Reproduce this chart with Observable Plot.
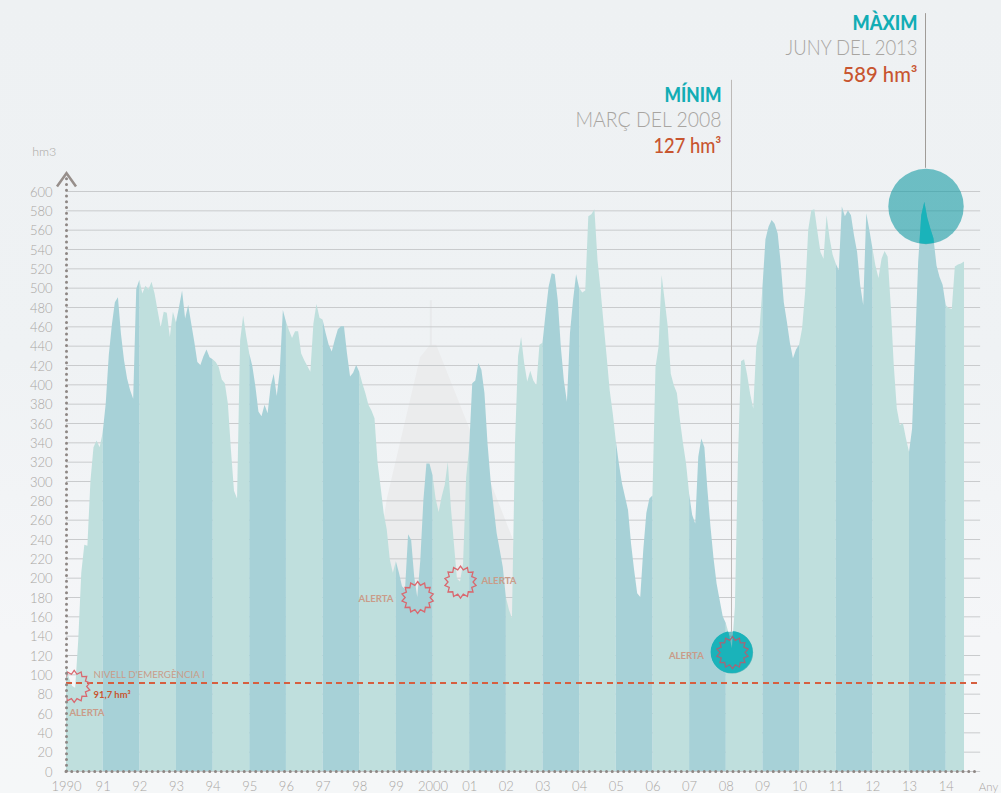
<!DOCTYPE html>
<html lang="ca">
<head>
<meta charset="utf-8">
<style>
  html, body { margin: 0; padding: 0; width: 1001px; height: 793px; overflow: hidden;
    background: linear-gradient(180deg, #eef1f3 0%, #eff2f4 45%, #f5f6f8 80%, #f5f7f8 100%); }
  svg { display: block; background: transparent !important; }
</style>
<script src="https://cdn.jsdelivr.net/npm/d3@7"></script>
<script src="https://cdn.jsdelivr.net/npm/@observablehq/plot@0.6"></script>
</head>
<body>
<div id="chart"></div>
<script>
// Monthly stored volume (hm3), Jan–Dec of each year
const v1990 = [108, 96, 88, 86, 135, 205, 234, 233, 300, 335, 342, 335];
const v1991 = [350, 380, 430, 461, 485, 490, 452, 425, 406, 394, 385, 499];
const v1992 = [508, 494, 502, 498, 506, 494, 476, 459, 475, 474, 449, 475];
const v1993 = [464, 480, 497, 468, 482, 463, 444, 423, 420, 429, 436, 428];
const v1994 = [426, 423, 418, 405, 401, 380, 332, 290, 282, 445, 471, 450];
const v1995 = [432, 419, 398, 372, 367, 379, 370, 398, 411, 388, 415, 477];
const v1996 = [465, 456, 448, 455, 455, 432, 425, 419, 413, 463, 483, 469];
const v1997 = [467, 453, 441, 434, 446, 457, 460, 460, 432, 408, 412, 420];
const v1998 = [413, 401, 391, 379, 373, 365, 319, 294, 267, 250, 219, 205];
const v1999 = [217, 205, 191, 188, 245, 239, 201, 180, 218, 280, 318, 318];
const v2000 = [306, 282, 268, 284, 296, 320, 273, 235, 199, 196, 215, 304];
const v2001 = [335, 401, 404, 422, 415, 391, 339, 301, 273, 246, 229, 211];
const v2002 = [180, 167, 158, 340, 429, 449, 422, 403, 414, 404, 399, 441];
const v2003 = [443, 473, 501, 515, 514, 487, 439, 404, 382, 453, 487, 514];
const v2004 = [500, 495, 497, 574, 576, 581, 529, 498, 463, 429, 394, 370];
const v2005 = [342, 318, 298, 284, 270, 235, 208, 184, 180, 229, 267, 282];
const v2006 = [285, 418, 439, 513, 487, 460, 411, 399, 391, 363, 339, 318];
const v2007 = [287, 265, 256, 325, 344, 335, 291, 253, 220, 194, 177, 160];
const v2008 = [153, 142, 127, 170, 325, 424, 426, 410, 390, 375, 440, 455];
const v2009 = [500, 550, 563, 570, 566, 556, 525, 485, 465, 443, 427, 436];
const v2010 = [441, 458, 496, 560, 580, 581, 558, 537, 530, 575, 551, 534];
const v2011 = [525, 518, 584, 574, 580, 575, 554, 537, 503, 482, 577, 560];
const v2012 = [541, 523, 510, 530, 538, 532, 482, 420, 375, 358, 360, 344];
const v2013 = [330, 354, 441, 527, 575, 589, 572, 561, 551, 523, 511, 503];
const v2014 = [482, 479, 478, 522, 524, 525, 527];

const seriesByYear = [v1990, v1991, v1992, v1993, v1994, v1995, v1996, v1997, v1998, v1999,
  v2000, v2001, v2002, v2003, v2004, v2005, v2006, v2007, v2008, v2009, v2010, v2011, v2012, v2013, v2014];
const firstYear = 1990;
const yearLabels = ["1990", "91", "92", "93", "94", "95", "96", "97", "98", "99", "2000", "01",
  "02", "03", "04", "05", "06", "07", "08", "09", "10", "11", "12", "13", "14"];
const yTicks = d3.range(0, 601, 20);

const emergencyLevel = 91.7;
const alertYears = [1990.21, 1999.58, 2000.75];
const alertValues = [88, 180, 196];
const minimumAlert = {x: 2008.17, v: 123};

// Faint mountain silhouette behind the chart
const mountainYears = [1998.3, 1998.57, 1998.76, 1999.66, 1999.93, 2000.1, 2001.02, 2002.2, 2002.5];
const mountainValues = [150, 239, 283, 428, 441, 441, 353, 239, 150];

const monthly = seriesByYear.flatMap((vals, i) =>
  vals.map((v, m) => ({year: firstYear + i, x: firstYear + i + m / 12, v})));

// Each year's band closes on the first month of the next year
const bands = seriesByYear.flatMap((vals, i) => {
  const next = seriesByYear[i + 1];
  const pts = vals.map((v, m) => ({year: firstYear + i, x: firstYear + i + m / 12, v}));
  if (next) pts.push({year: firstYear + i, x: firstYear + i + 1, v: next[0]});
  return pts;
});
const lightBand = bands.filter(d => d.year % 2 === 0);
const darkBand = bands.filter(d => d.year % 2 === 1);

const TEAL = "#12adb5", ORANGE = "#c8552f", LABEL = "#c99c89", AXIS = "#a9a6a3";
const DEEP = "#1ab3ba", BURST = "#d9686f";
const FONT = "Lato, 'Open Sans', sans-serif";

const burst = {
  draw(ctx, size) {
    const R = Math.sqrt(size / Math.PI), r = R * 0.78, n = 14;
    for (let i = 0; i < n * 2; i++) {
      const a = Math.PI * i / n - Math.PI / 2, q = i % 2 ? r : R;
      const px = q * Math.cos(a), py = q * Math.sin(a);
      i ? ctx.lineTo(px, py) : ctx.moveTo(px, py);
    }
    ctx.closePath();
  }
};
const chevron = {
  draw(ctx, size) {
    const R = Math.sqrt(size / Math.PI);
    ctx.moveTo(-R, R * 0.7);
    ctx.lineTo(0, -R * 0.7);
    ctx.lineTo(R, R * 0.7);
  }
};

const textAt = (label, x, y, o) => Plot.text([label], {x: () => x, y: () => y, text: d => d, lineAnchor: "middle", ...o});

const plot = Plot.plot({
  width: 1001,
  height: 793,
  marginLeft: 66,
  marginRight: 37,
  marginTop: 191,
  marginBottom: 22,
  x: {domain: [1990, 2014.5], label: null},
  y: {domain: [0, 600], label: null},
  style: {fontFamily: FONT, background: "transparent"},
  marks: [
    Plot.areaY(mountainYears.map((x, i) => ({x, v: mountainValues[i]})), {x: "x", y: "v", fill: "#ebeced", curve: "linear"}),
    Plot.ruleX([1999.94], {y1: 440, y2: 487, stroke: "#e8eaec", strokeWidth: 2}),
    Plot.ruleY(yTicks, {x1: 1990, x2: 2014.94, stroke: "#c9cbcd", strokeWidth: 1}),
    Plot.areaY(lightBand, {x: "x", y: "v", z: "year", fill: "#bfdfdd"}),
    Plot.areaY(darkBand, {x: "x", y: "v", z: "year", fill: "#a7d1d7"}),
    Plot.dot([2013.45], {x: d => d, y: () => 584.5, r: 37.7, fill: "rgb(22,155,164)", fillOpacity: 0.6}),
    Plot.dot([2008.16], {x: d => d, y: () => 123, r: 21, fill: "rgb(22,155,164)", fillOpacity: 0.6}),
    Plot.areaY(monthly, {x: "x", y: "v", fill: DEEP}),
    Plot.ruleX([2013.436], {y1: 624, y2: 784, stroke: "#a09c98", strokeWidth: 1}),
    Plot.ruleX([2008.143], {y1: 144, y2: 715, stroke: "#bdbab8", strokeWidth: 1}),
    Plot.ruleY([emergencyLevel], {x1: 1990, x2: 2014.94, stroke: "#d65f3f", strokeWidth: 1.3, strokeDasharray: "6,4.4", shapeRendering: "crispEdges"}),
    Plot.dot(alertYears.map((x, i) => ({x, v: alertValues[i]})), {x: "x", y: "v", r: 16, symbol: burst, fill: "none", stroke: BURST, strokeWidth: 1.3}),
    Plot.dot([minimumAlert], {x: "x", y: "v", r: 16, symbol: burst, fill: "none", stroke: "#a0697a", strokeWidth: 1.3}),
    Plot.ruleX([1990], {y1: 0, y2: 613, stroke: "#8e8784", strokeWidth: 3, strokeLinecap: "round", strokeDasharray: "0,5.75"}),
    Plot.ruleY([0], {x1: 1990, x2: 2014.8, stroke: "#8e8784", strokeWidth: 3, strokeLinecap: "round", strokeDasharray: "0,5.75"}),
    Plot.dot([1990], {x: d => d, y: () => 612, r: 9.5, symbol: chevron, fill: "none", stroke: "#978f8b", strokeWidth: 2.5}),
    Plot.axisY({ticks: yTicks, tickSize: 0, tickPadding: 14, fontSize: 13, fontWeight: 300, fill: AXIS, label: null, dy: 1}),
    Plot.axisX({ticks: yearLabels.map((_, i) => firstYear + i), tickSize: 0, tickPadding: 10, fontSize: 13, fontWeight: 300, fill: AXIS, label: null,
      tickFormat: d => yearLabels[d - firstYear]}),
    textAt("hm3", 1989.15, 640.5, {fontSize: 12.5, fontWeight: 300, fill: AXIS, textAnchor: "end", dx: 21}),
    textAt("Any", 2014.89, -16.5, {fontSize: 11.5, fontWeight: 300, fill: AXIS, textAnchor: "start"}),
    textAt("MÀXIM", 2013.22, 773.8, {fontSize: 21, fontWeight: 900, fill: TEAL, textAnchor: "end"}),
    textAt("JUNY DEL 2013", 2013.22, 748, {fontSize: 21, fontWeight: 300, fill: "#a8a5a1", textAnchor: "end"}),
    textAt("589 hm³", 2013.22, 720, {fontSize: 21, fontWeight: 500, fill: ORANGE, textAnchor: "end"}),
    textAt("MÍNIM", 2007.87, 699.3, {fontSize: 21, fontWeight: 900, fill: TEAL, textAnchor: "end"}),
    textAt("MARÇ DEL 2008", 2007.87, 673.5, {fontSize: 21, fontWeight: 300, fill: "#a8a5a1", textAnchor: "end"}),
    textAt("127 hm³", 2007.87, 646.5, {fontSize: 21, fontWeight: 500, fill: ORANGE, textAnchor: "end"}),
    textAt("NIVELL D'EMERGÈNCIA I", 1990.74, 100, {fontSize: 10, fontWeight: 400, fill: LABEL, textAnchor: "start"}),
    textAt("91,7 hm³", 1990.74, 79.5, {fontSize: 10, fontWeight: 700, fill: ORANGE, textAnchor: "start"}),
    textAt("ALERTA", 1990.08, 61, {fontSize: 10, fontWeight: 700, fill: LABEL, textAnchor: "start"}),
    textAt("ALERTA", 1998.92, 179, {fontSize: 10, fontWeight: 700, fill: LABEL, textAnchor: "end"}),
    textAt("ALERTA", 2001.32, 197.5, {fontSize: 10, fontWeight: 700, fill: LABEL, textAnchor: "start"}),
    textAt("ALERTA", 2007.39, 120, {fontSize: 10, fontWeight: 700, fill: LABEL, textAnchor: "end"})
  ]
});

const sx = plot.scale("x"), sy = plot.scale("y");
const svg = d3.select(plot);
const defs = svg.append("defs");

// The deep teal of the curve only shows where it lies inside the two highlight circles
const clip = defs.append("clipPath").attr("id", "highlight");
clip.append("circle").attr("cx", sx.apply(2013.45)).attr("cy", sy.apply(584.5)).attr("r", 37.7);
clip.append("circle").attr("cx", sx.apply(2008.16)).attr("cy", sy.apply(123)).attr("r", 21);
svg.selectAll(`g[fill="${DEEP}"]`).attr("clip-path", "url(#highlight)");

// The first starburst stops at the vertical axis (clip is in the symbol's own coordinates)
defs.append("clipPath").attr("id", "rightOfAxis").append("rect")
  .attr("x", sx.apply(1990) - sx.apply(alertYears[0])).attr("y", -30).attr("width", 60).attr("height", 60);
svg.selectAll(`g[stroke="${BURST}"] path`).filter((_, i) => i === 0).attr("clip-path", "url(#rightOfAxis)");

// Narrow the lettering to the reference's set widths
const setWidths = new Map([
  ["MÀXIM", 65], ["JUNY DEL 2013", 132], ["589 hm³", 75],
  ["MÍNIM", 57], ["MARÇ DEL 2008", 146], ["127 hm³", 68],
  ["NIVELL D'EMERGÈNCIA I", 111], ["91,7 hm³", 37], ["ALERTA", 35]
]);
svg.selectAll("text").each(function() {
  const w = setWidths.get(this.textContent);
  if (w) d3.select(this).attr("textLength", w).attr("lengthAdjust", "spacingAndGlyphs");
});

document.getElementById("chart").append(plot);
</script>
</body>
</html>
